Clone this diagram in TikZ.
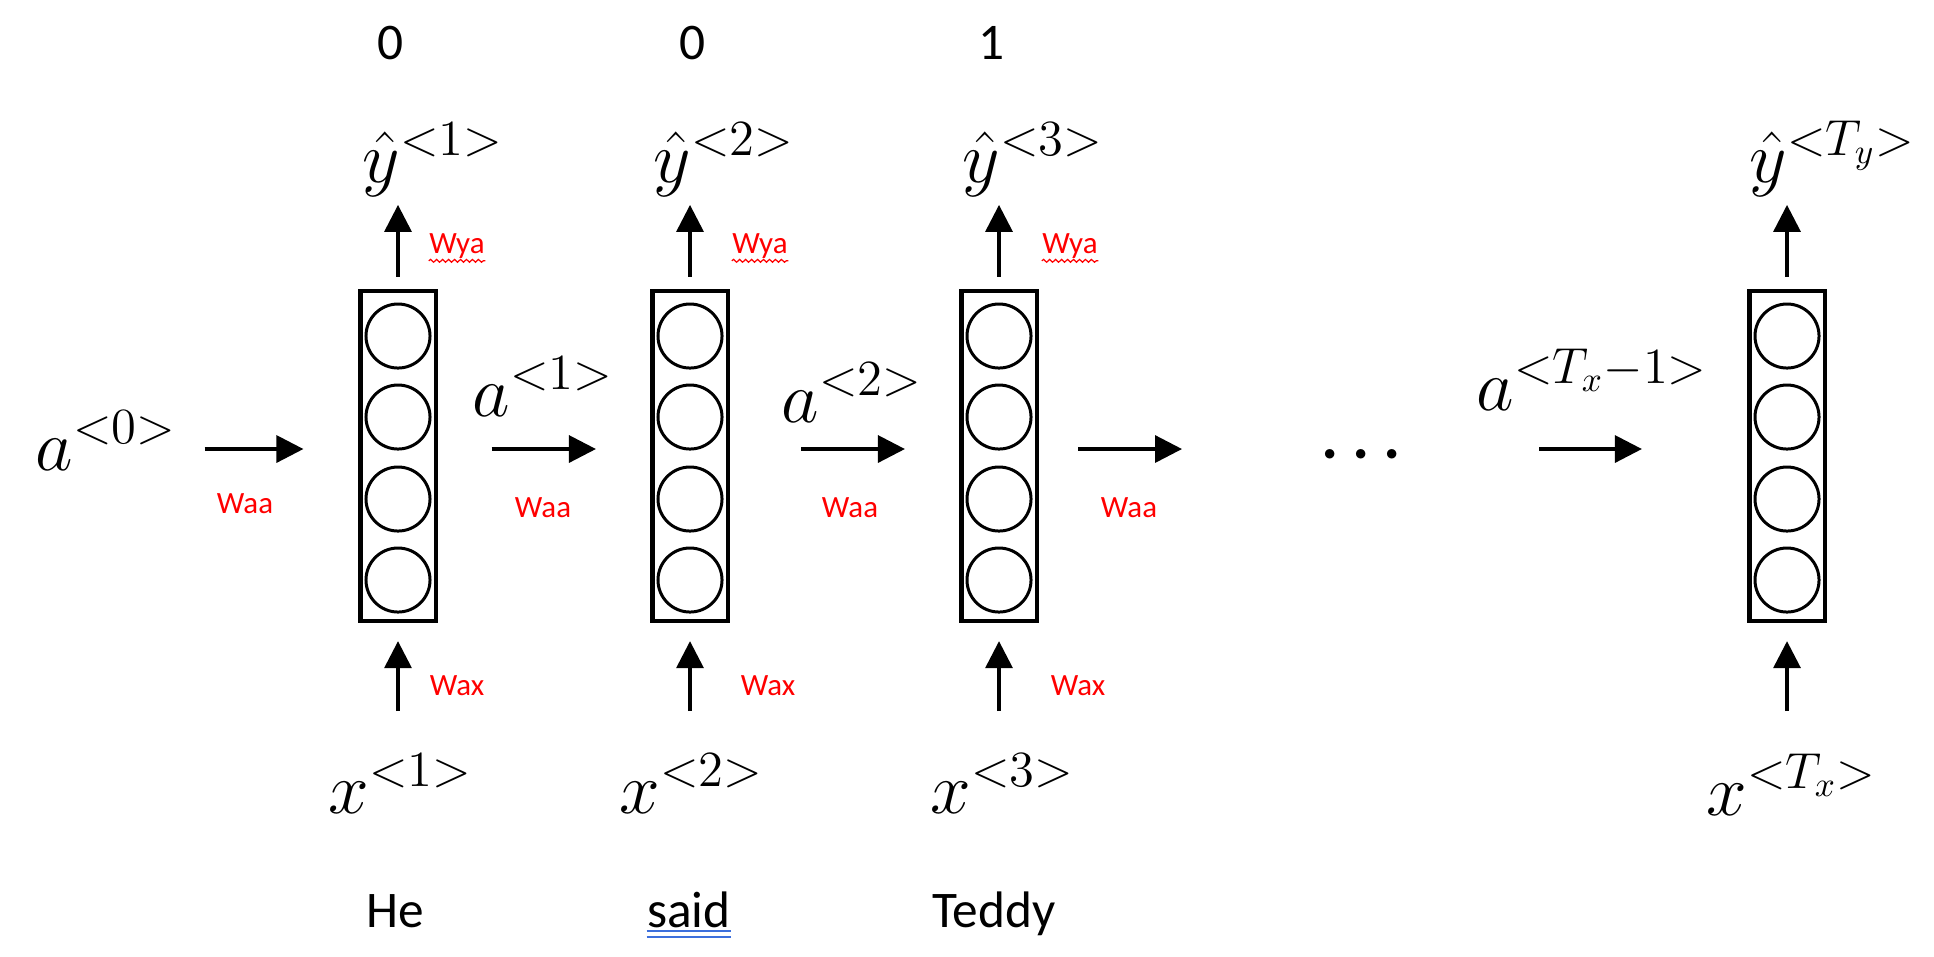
\documentclass[tikz,border=0pt]{standalone}
\usepackage[no-math]{fontspec}
\setmainfont{Carlito}
\usepackage{bm}
\usepackage{xcolor}
\usetikzlibrary{arrows.meta,decorations.pathmorphing}
\definecolor{wred}{HTML}{FF0000}
\definecolor{spell}{HTML}{3D6FDC}

\begin{document}
\begin{tikzpicture}[x=0.01cm,y=-0.01cm,>={Triangle[width=0.27cm,length=0.27cm]},
  cell/.style={draw,line width=1.15pt,minimum width=0.75cm,minimum height=3.3cm,inner sep=0pt},
  unit/.style={draw,circle,line width=0.85pt,minimum size=0.64cm,inner sep=0pt},
  sym/.style={inner sep=0pt,anchor=base west,font=\fontsize{20}{24}\selectfont},
  wgt/.style={inner sep=0pt,anchor=base,text=wred,font=\fontsize{8.8}{10}\selectfont},
  word/.style={inner sep=0pt,anchor=base,font=\fontsize{14.6}{17}\selectfont},
  link/.style={->,line width=0.95pt}]
\useasboundingbox (0,0) rectangle (1934,956);
\coordinate (row) at (0,449);
% cells
\node[cell] (cell1) at (398,456) {};
\node[unit] (u11) at (398,336) {}; \node[unit] (u12) at (398,417) {}; \node[unit] (u13) at (398,499) {}; \node[unit] (u14) at (398,580) {};
\node[cell] (cell2) at (690,456) {};
\node[unit] (u21) at (690,336) {}; \node[unit] (u22) at (690,417) {}; \node[unit] (u23) at (690,499) {}; \node[unit] (u24) at (690,580) {};
\node[cell] (cell3) at (999,456) {};
\node[unit] (u31) at (999,336) {}; \node[unit] (u32) at (999,417) {}; \node[unit] (u33) at (999,499) {}; \node[unit] (u34) at (999,580) {};
\node[cell] (cell4) at (1787,456) {};
\node[unit] (u41) at (1787,336) {}; \node[unit] (u42) at (1787,417) {}; \node[unit] (u43) at (1787,499) {}; \node[unit] (u44) at (1787,580) {};
% labels
\node[word] (lab1) at (391,59) {0};
\node[word] (lab2) at (692,59) {0};
\node[word] (lab3) at (991,59) {1};
\node[sym] (yhat1) at (362,182) {$\hat{y}^{<1>}$};
\node[sym] (yhat2) at (653,182) {$\hat{y}^{<2>}$};
\node[sym] (yhat3) at (962,182) {$\hat{y}^{<3>}$};
\node[sym] (yhat4) at (1749,182) {$\hat{y}^{<T_y>}$};
\node[sym] (x1) at (328,813) {$x^{<1>}$};
\node[sym] (x2) at (619,813) {$x^{<2>}$};
\node[sym] (x3) at (930,813) {$x^{<3>}$};
\node[sym] (x4) at (1706,815) {$x^{<T_x>}$};
\node[sym] (a0) at (35,470) {$a^{<0>}$};
\node[sym] (a1) at (472,416) {$a^{<1>}$};
\node[sym] (a2) at (781,422) {$a^{<2>}$};
\node[sym] (a3) at (1476,410) {$a^{<T_x-1>}$};
\node[inner sep=0pt,anchor=base,font=\fontsize{18}{21}\selectfont] (dots) at (1361,469) {$\bm{\cdots}$};
\node[word] (he) at (395,927) {He};
\node[word] (said) at (689,927) {said};
\node[word] (teddy) at (994,927) {Teddy};
\draw[spell,line width=0.45pt] ([yshift=-0.9pt]said.south west) -- ([yshift=-0.9pt]said.south east)
  ([yshift=-2.5pt]said.south west) -- ([yshift=-2.5pt]said.south east);
% weights
\node[wgt] (wya1) at (457,253) {Wya};
\node[wgt] (wya2) at (760,253) {Wya};
\node[wgt] (wya3) at (1070,253) {Wya};
\foreach \w in {wya1,wya2,wya3}
  \draw[wred,line width=0.35pt,decorate,decoration={snake,amplitude=0.4pt,segment length=1.7pt}]
    ([yshift=-0.6pt]\w.south west) -- ([yshift=-0.6pt]\w.south east);
\node[wgt] (wax1) at (457,695) {Wax};
\node[wgt] (wax2) at (768,695) {Wax};
\node[wgt] (wax3) at (1078,695) {Wax};
\node[wgt] (waa1) at (245,513) {Waa};
\node[wgt] (waa2) at (543,517) {Waa};
\node[wgt] (waa3) at (850,517) {Waa};
\node[wgt] (waa4) at (1129,517) {Waa};
% connectors
\draw[link,shorten <=0.12cm,shorten >=0.08cm] (cell1.north) -- (cell1.north |- yhat1.south);
\draw[link,shorten <=0.12cm,shorten >=0.08cm] (cell2.north) -- (cell2.north |- yhat2.south);
\draw[link,shorten <=0.12cm,shorten >=0.08cm] (cell3.north) -- (cell3.north |- yhat3.south);
\draw[link,shorten <=0.12cm,shorten >=0.08cm] (cell4.north) -- (cell4.north |- yhat4.south);
\draw[link,shorten <=0.42cm,shorten >=0.18cm] (x1.north -| cell1.south) -- (cell1.south);
\draw[link,shorten <=0.42cm,shorten >=0.18cm] (x2.north -| cell2.south) -- (cell2.south);
\draw[link,shorten <=0.42cm,shorten >=0.18cm] (x3.north -| cell3.south) -- (cell3.south);
\draw[link,shorten <=0.42cm,shorten >=0.18cm] (x4.north -| cell4.south) -- (cell4.south);
\coordinate (gap1) at (1182,449);
\coordinate (gap2) at (1539,449);
\draw[link,shorten <=0.27cm,shorten >=0.55cm] (a0.east |- row) -- (cell1.west |- row);
\draw[link,shorten <=0.54cm,shorten >=0.545cm] (cell1.east |- row) -- (cell2.west |- row);
\draw[link,shorten <=0.715cm,shorten >=0.545cm] (cell2.east |- row) -- (cell3.west |- row);
\draw[link,shorten <=0.395cm] (cell3.east |- row) -- (gap1);
\draw[link,shorten >=1.055cm] (gap2) -- (cell4.west |- row);
\end{tikzpicture}
\end{document}
